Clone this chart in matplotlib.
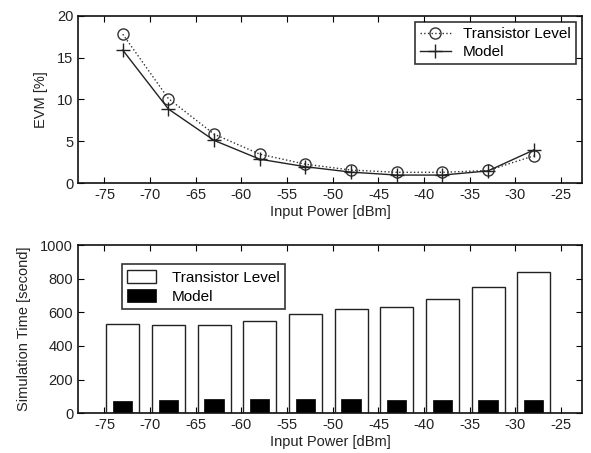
import numpy as np
import matplotlib
matplotlib.use("Agg")
import matplotlib.pyplot as plt

plt.rcParams['font.family'] = ['Liberation Sans', 'DejaVu Sans']
plt.rcParams['axes.unicode_minus'] = False

# Input power points [dBm]
power = [-73, -68, -63, -58, -53, -48, -43, -38, -33, -28]

# EVM [%]
evm_transistor = [17.8, 10.1, 5.85, 3.45, 2.25, 1.55, 1.28, 1.28, 1.5, 3.25]
evm_model = [15.9, 8.85, 5.1, 2.85, 1.95, 1.3, 0.95, 0.95, 1.45, 3.95]

# Simulation time [second]
time_transistor = [528, 527, 527, 546, 587, 617, 629, 679, 748, 837]
time_model = [71, 77, 87, 87, 87, 87, 77, 77, 77, 77]

xticks = [-75, -70, -65, -60, -55, -50, -45, -40, -35, -30, -25]
txt = '#222222'
fs = 10.5

fig = plt.figure(figsize=(5.91, 4.53), dpi=100)
ax1 = fig.add_axes([0.132, 0.596, 0.853, 0.369])
ax2 = fig.add_axes([0.132, 0.088, 0.853, 0.371])

ax1.plot(power, evm_transistor, linestyle=':', color='#333333', lw=1.0,
         marker='o', markersize=8, markerfacecolor='none',
         markeredgecolor='#333333', label='Transistor Level')
ax1.plot(power, evm_model, linestyle='-', color='#222222', lw=1.0,
         marker='+', markersize=10, markeredgewidth=1.0, label='Model')
ax1.set_ylim(0, 20)
ax1.set_yticks([0, 5, 10, 15, 20])
ax1.set_ylabel('EVM [%]', fontsize=fs, color=txt, labelpad=6)
ax1.legend(loc='upper right', fontsize=11, frameon=True, fancybox=False,
           edgecolor='black', handlelength=2.0, borderpad=0.35,
           labelspacing=0.25, borderaxespad=0.4, handletextpad=0.8)

ax2.bar(power, time_transistor, width=3.6, color='white', edgecolor='#222222',
        linewidth=1.0, label='Transistor Level')
ax2.bar(power, time_model, width=2.1, color='black', edgecolor='black',
        linewidth=0.5, label='Model')
ax2.set_ylim(0, 1000)
ax2.set_yticks([0, 200, 400, 600, 800, 1000])
ax2.set_ylabel('Simulation Time [second]', fontsize=fs, color=txt, labelpad=7)
ax2.legend(loc='upper left', bbox_to_anchor=(0.072, 0.93), fontsize=11,
           frameon=True, fancybox=False, edgecolor='black', handlelength=1.9,
           handleheight=0.95, borderpad=0.35, labelspacing=0.3,
           handletextpad=1.0)

for ax in (ax1, ax2):
    ax.set_xlim(-77.9, -22.7)
    ax.set_xticks(xticks)
    ax.set_xlabel('Input Power [dBm]', fontsize=fs, color=txt, labelpad=2)
    ax.tick_params(direction='in', top=True, right=True, length=4,
                   labelsize=fs, labelcolor=txt, width=0.8)
    for s in ax.spines.values():
        s.set_linewidth(1.2)
        s.set_color('#111111')
    ax.legend_.get_frame().set_linewidth(1.2)

fig.savefig('out.png', dpi=100)
